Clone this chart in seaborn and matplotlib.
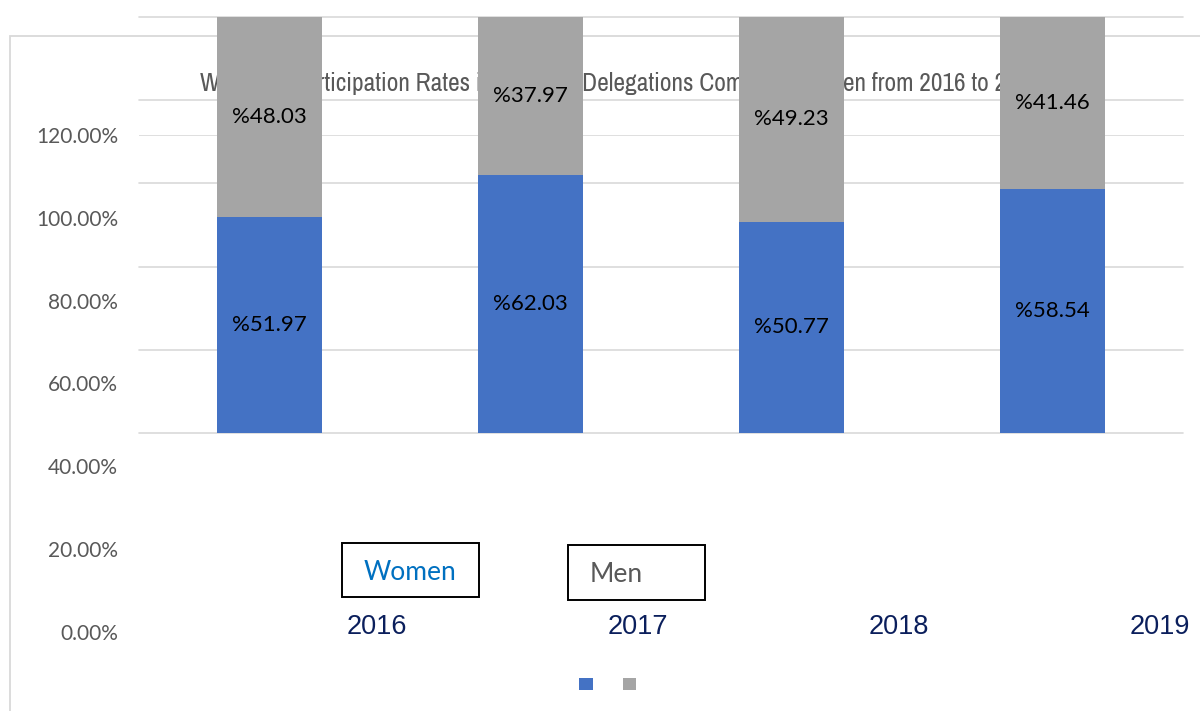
import matplotlib
matplotlib.use("Agg")
import matplotlib.pyplot as plt
from matplotlib import font_manager as fm
from matplotlib.patches import Rectangle, Patch
from matplotlib.transforms import blended_transform_factory
import seaborn as sns
import numpy as np
import pandas as pd

# ---- data ----
years = ["2016", "2017", "2018", "2019"]
women = [51.97, 62.03, 50.77, 58.54]
men = [48.03, 37.97, 49.23, 41.46]
ytick_values = [0.0, 0.2, 0.4, 0.6, 0.8, 1.0, 1.2]
title_text = "Women's Participation Rates in National Delegations Compared to Men from 2016 to 2019"
series_names = ["Women", "Men"]

BLUE = "#4472C4"
GREY = "#A5A5A5"
GRID = "#D9D9D9"
TXT = "#595959"
NAVY = "#0B1F5C"

sns.set_theme(style="white")

# pick a narrow sans face for the title if one is installed
title_fp = None
title_size = 15
narrow = [f for f in fm.fontManager.ttflist
          if ("Narrow" in f.name or "Condensed" in f.name
              or f.stretch in ("condensed", "semi-condensed", "extra-condensed"))
          and f.weight in ("normal", 400, "regular", "book") and f.style == "normal"
          and "Mono" not in f.name and "Serif" not in f.name]
if narrow:
    pref = sorted(narrow, key=lambda f: (0 if "Liberation" in f.name else
                                         1 if "Narrow" in f.name else 2))
    chosen = pref[0]
    title_fp = fm.FontProperties(fname=chosen.fname)
    title_size = 18.3 if "Narrow" in chosen.name else 14
if title_fp is None:
    title_fp = fm.FontProperties(family=["Liberation Sans", "DejaVu Sans"])
title_fp.set_size(title_size)

plt.rcParams["font.family"] = ["Lato", "DejaVu Sans"]

W, H = 1200, 711
fig = plt.figure(figsize=(W / 100, H / 100), dpi=100)

def fx(x):
    return x / W

def fy(y):
    return (H - y) / H

# outer chart frame (extends beyond the figure on right/bottom)
fig.add_artist(Rectangle((fx(10), -0.1), 1.0, fy(36) + 0.1, transform=fig.transFigure,
                         fill=False, edgecolor=GRID, linewidth=1.3, zorder=-5))

# label axis (tick labels sit at a different scale than the bars)
lax = fig.add_axes([fx(139), fy(632), fx(1184) - fx(139), fy(135) - fy(632)])
lax.set_ylim(0, 1.2)
lax.set_xlim(0, 1)
lax.patch.set_visible(False)
for s in lax.spines.values():
    s.set_visible(False)
lax.set_xticks([])
lax.set_yticks(ytick_values)
lax.set_yticklabels([f"{v * 100:.2f}%" for v in ytick_values])
lax.tick_params(axis="y", length=0, pad=15, labelsize=15, labelcolor=TXT)
lax.axhline(1.2, color=GRID, linewidth=1.2, zorder=0)

# main bar axis
ax = fig.add_axes([fx(139), fy(433), fx(1183) - fx(139), fy(17) - fy(433)])
ax.patch.set_visible(False)
df = pd.DataFrame({"year": years, "women": women, "men": men})
df["total"] = df["women"] + df["men"]

sns.barplot(data=df, x="year", y="total", color=GREY, saturation=1, width=0.4,
            linewidth=0, ax=ax, zorder=3)
sns.barplot(data=df, x="year", y="women", color=BLUE, saturation=1, width=0.4,
            linewidth=0, ax=ax, zorder=3)
ax.set_xlim(-0.5, 3.5)
ax.set_ylim(0, 100)
for s in ax.spines.values():
    s.set_visible(False)
ax.set_xticks([])
ax.set_yticks([])
ax.set_xlabel("")
ax.set_ylabel("")
for g in [0, 20, 40, 60, 80, 100]:
    ax.axhline(g, color=GRID, linewidth=1.2, zorder=0.5, clip_on=False)

# data labels
for i, (w, m) in enumerate(zip(women, men)):
    ax.text(i, w / 2, f"%{w:.2f}", ha="center", va="center", fontsize=16,
            color="black", zorder=5)
    ax.text(i, w + m / 2, f"%{m:.2f}", ha="center", va="center", fontsize=16,
            color="black", zorder=5)

# title (drawn behind the bars)
ax.text(fx(200), fy(91), title_text, transform=fig.transFigure, ha="left",
        va="baseline", fontproperties=title_fp, color=TXT, zorder=1)

# category labels, offset from the bars
tr = blended_transform_factory(ax.transData, fig.transFigure)
for i, yr in enumerate(years):
    ax.text(i + 0.41, fy(627), yr, transform=tr, ha="center", va="center",
            fontsize=19.5, family=["Liberation Sans", "DejaVu Sans"], color=NAVY,
            clip_on=False, zorder=5)

# boxed series names
fig.add_artist(Rectangle((fx(342), fy(597)), fx(479) - fx(342), fy(543) - fy(597),
                         transform=fig.transFigure, fill=False, edgecolor="black",
                         linewidth=1.4))
fig.text(fx(410), fy(573), series_names[0], ha="center", va="center", fontsize=19,
         color="#0070C0")
fig.add_artist(Rectangle((fx(568), fy(600)), fx(705) - fx(568), fy(545) - fy(600),
                         transform=fig.transFigure, fill=False, edgecolor="black",
                         linewidth=1.4))
fig.text(fx(616), fy(574), series_names[1], ha="center", va="center", fontsize=19,
         color=TXT)

# legend (labels lost in the original)
handles = [Patch(facecolor=BLUE, edgecolor="none"), Patch(facecolor=GREY, edgecolor="none")]
fig.legend(handles, ["", ""], loc="center", bbox_to_anchor=(fx(611), fy(684)),
           bbox_transform=fig.transFigure, ncol=2, frameon=False, fontsize=10,
           handlelength=1.0, handleheight=1.0, handletextpad=0.5, columnspacing=1.66)

fig.savefig("out.png", dpi=100)
